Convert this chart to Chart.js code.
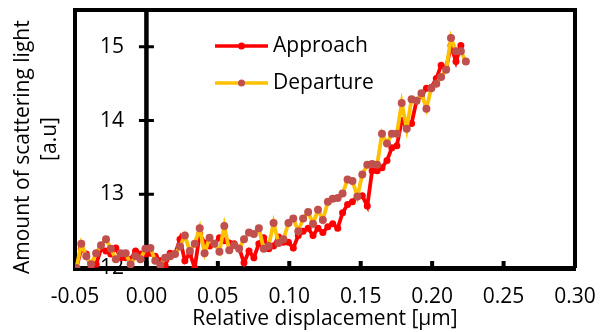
<!DOCTYPE html>
<html>
<head>
<meta charset="utf-8">
<script src="https://cdn.jsdelivr.net/npm/chart.js@4.4.1/dist/chart.umd.min.js"></script>
<style>
  html, body { margin: 0; padding: 0; background: #fff; }
</style>
</head>
<body>
<canvas id="chartCanvas" width="603" height="332"></canvas>
<script>
// --- data ---
const xValues = [
  -0.0490, -0.0456, -0.0421, -0.0387, -0.0352, -0.0318, -0.0283, -0.0249, -0.0214, -0.0180,
  -0.0145, -0.0111, -0.0076, -0.0042, -0.0007, 0.0028, 0.0062, 0.0097, 0.0131, 0.0166,
  0.0200, 0.0235, 0.0269, 0.0304, 0.0338, 0.0373, 0.0407, 0.0442, 0.0476, 0.0511,
  0.0545, 0.0580, 0.0614, 0.0649, 0.0683, 0.0718, 0.0752, 0.0787, 0.0821, 0.0856,
  0.0890, 0.0925, 0.0959, 0.0994, 0.1028, 0.1063, 0.1097, 0.1132, 0.1166, 0.1201,
  0.1235, 0.1270, 0.1304, 0.1339, 0.1373, 0.1408, 0.1442, 0.1477, 0.1511, 0.1546,
  0.1580, 0.1615, 0.1649, 0.1684, 0.1718, 0.1753, 0.1787, 0.1822, 0.1856, 0.1891,
  0.1925, 0.1960, 0.1994, 0.2029, 0.2063, 0.2098, 0.2132, 0.2167, 0.2201, 0.2236
];

const approach = [
  12.00, 12.26, 12.19, 12.00, 12.05, 12.26, 12.23, 12.19, 12.27, 12.14,
  12.14, 12.12, 12.23, 12.19, 12.19, 12.20, 12.16, 12.10, 12.03, 12.20,
  12.19, 12.39, 12.10, 12.20, 12.00, 12.46, 12.34, 12.30, 12.33, 12.41,
  12.37, 12.34, 12.33, 12.27, 12.07, 12.23, 12.14, 12.33, 12.41, 12.26,
  12.30, 12.42, 12.35, 12.35, 12.27, 12.44, 12.50, 12.54, 12.44, 12.54,
  12.48, 12.56, 12.60, 12.54, 12.75, 12.86, 12.90, 12.97, 12.98, 12.84,
  13.32, 13.32, 13.36, 13.46, 13.63, 13.66, 14.00, 13.93, 13.96, 14.27,
  14.34, 14.44, 14.45, 14.57, 14.75, 14.71, 15.02, 14.80, 15.02
];

const departure = [
  12.00, 12.33, 12.16, 12.05, 12.20, 12.31, 12.39, 12.26, 12.12, 12.20,
  12.20, 12.05, 12.16, 12.12, 12.26, 12.27, 12.10, 12.04, 12.14, 12.16,
  12.19, 12.29, 12.44, 12.23, 12.33, 12.54, 12.20, 12.41, 12.33, 12.22,
  12.57, 12.24, 12.31, 12.26, 12.39, 12.48, 12.46, 12.54, 12.26, 12.30,
  12.61, 12.34, 12.39, 12.61, 12.67, 12.50, 12.67, 12.76, 12.60, 12.79,
  12.65, 12.90, 12.94, 12.95, 13.01, 13.20, 13.18, 12.97, 13.27, 13.40,
  13.41, 13.40, 13.82, 13.69, 13.82, 13.82, 14.24, 13.89, 14.29, 14.27,
  14.37, 14.16, 14.44, 14.50, 14.59, 14.69, 15.12, 14.94, 14.94, 14.80
];

const xTickValues = [-0.05, 0, 0.05, 0.10, 0.15, 0.20, 0.25, 0.30];
const yTickValues = [12, 13, 14, 15];

const FONT = "'Open Sans', sans-serif";
Chart.defaults.font.family = FONT;
Chart.defaults.font.size = 21;
Chart.defaults.color = "#000";

const toPoints = ys => ys.map((y, i) => ({ x: xValues[i], y }));

// labels overflowing the ends should not shrink the plot area
const noEdgePadding = s => {
  s.paddingTop = 0;
  s.paddingBottom = 0;
  s.paddingLeft = 0;
  s.paddingRight = 0;
};

// frame, axis through x = 0, inward ticks, and the legend inside the plot
const framePlugin = {
  id: "frame",
  beforeDatasetsDraw(chart) {
    const { ctx, chartArea: a, scales: { x, y } } = chart;
    ctx.save();
    ctx.strokeStyle = "#000";
    ctx.lineJoin = "miter";

    ctx.lineWidth = 4;
    ctx.beginPath();
    ctx.moveTo(a.left - 2, a.top);
    ctx.lineTo(a.right, a.top);
    ctx.lineTo(a.right, a.bottom);
    ctx.stroke();

    const x0 = x.getPixelForValue(0);
    ctx.lineWidth = 4.5;
    ctx.beginPath();
    ctx.moveTo(x0, a.top);
    ctx.lineTo(x0, a.bottom);
    ctx.stroke();

    ctx.lineWidth = 3;
    ctx.beginPath();
    yTickValues.forEach(v => {
      const py = y.getPixelForValue(v);
      ctx.moveTo(x0 - 7.5, py);
      ctx.lineTo(x0 + 7.5, py);
    });
    ctx.stroke();

    ctx.lineWidth = 4;
    ctx.beginPath();
    xTickValues.forEach(v => {
      const px = x.getPixelForValue(v);
      ctx.moveTo(px, a.bottom);
      ctx.lineTo(px, a.bottom - 7);
    });
    ctx.stroke();
    ctx.restore();
  },
  afterDatasetsDraw(chart) {
    const { ctx } = chart;
    const rows = [46, 83];
    ctx.save();
    chart.data.datasets.forEach((ds, i) => {
      const yy = rows[i];
      ctx.strokeStyle = ds.borderColor;
      ctx.lineWidth = 3.5;
      ctx.beginPath();
      ctx.moveTo(215, yy);
      ctx.lineTo(268, yy);
      ctx.stroke();
      ctx.fillStyle = ds.pointBackgroundColor;
      ctx.beginPath();
      ctx.arc(241.5, yy, 3.5, 0, Math.PI * 2);
      ctx.fill();
      ctx.fillStyle = "#000";
      ctx.font = "21px " + FONT;
      ctx.textBaseline = "middle";
      ctx.textAlign = "left";
      ctx.fillText(ds.label, 273, yy);
    });
    ctx.restore();
  }
};

new Chart(document.getElementById("chartCanvas"), {
  type: "scatter",
  data: {
    datasets: [
      {
        label: "Approach",
        data: toPoints(approach),
        showLine: true,
        borderColor: "#FF0000",
        backgroundColor: "#FF0000",
        pointBackgroundColor: "#FF0000",
        pointBorderColor: "#FF0000",
        borderWidth: 3.8,
        pointRadius: 3.5,
        pointBorderWidth: 0,
        order: 1
      },
      {
        label: "Departure",
        data: toPoints(departure),
        showLine: true,
        borderColor: "#FFC000",
        backgroundColor: "#FFC000",
        pointBackgroundColor: "#C0504D",
        pointBorderColor: "#C0504D",
        borderWidth: 3.8,
        pointRadius: 4,
        pointBorderWidth: 0,
        order: 0
      }
    ]
  },
  options: {
    responsive: false,
    animation: false,
    layout: { padding: { top: 10, right: 28, left: 0, bottom: 0 } },
    plugins: {
      legend: { display: false },
      tooltip: { enabled: false }
    },
    scales: {
      x: {
        type: "linear",
        position: "bottom",
        min: -0.05,
        max: 0.30,
        afterBuildTicks: s => { s.ticks = xTickValues.map(v => ({ value: v })); },
        afterFit: s => { s.height = 64; noEdgePadding(s); },
        grid: { display: false, drawTicks: false },
        border: { display: true, color: "#000", width: 5 },
        ticks: { padding: 16, callback: v => v.toFixed(2), maxRotation: 0 },
        title: {
          display: true,
          text: "Relative displacement [µm]",
          padding: { top: 0, bottom: 0 }
        }
      },
      y: {
        type: "linear",
        position: "left",
        min: 12,
        max: 15.5,
        afterBuildTicks: s => { s.ticks = yTickValues.map(v => ({ value: v })); },
        afterFit: s => { s.width = 75; noEdgePadding(s); },
        grid: { display: false, drawTicks: false },
        border: { display: true, color: "#000", width: 4 },
        ticks: { mirror: true, padding: 25 },
        title: {
          display: true,
          // trailing spaces nudge the first line down, as in the original
          text: ["Amount of scattering light   ", "[a.u]"],
          font: { lineHeight: 1.27 },
          padding: { top: 10, bottom: 0 }
        }
      }
    }
  },
  plugins: [framePlugin]
});
</script>
</body>
</html>
